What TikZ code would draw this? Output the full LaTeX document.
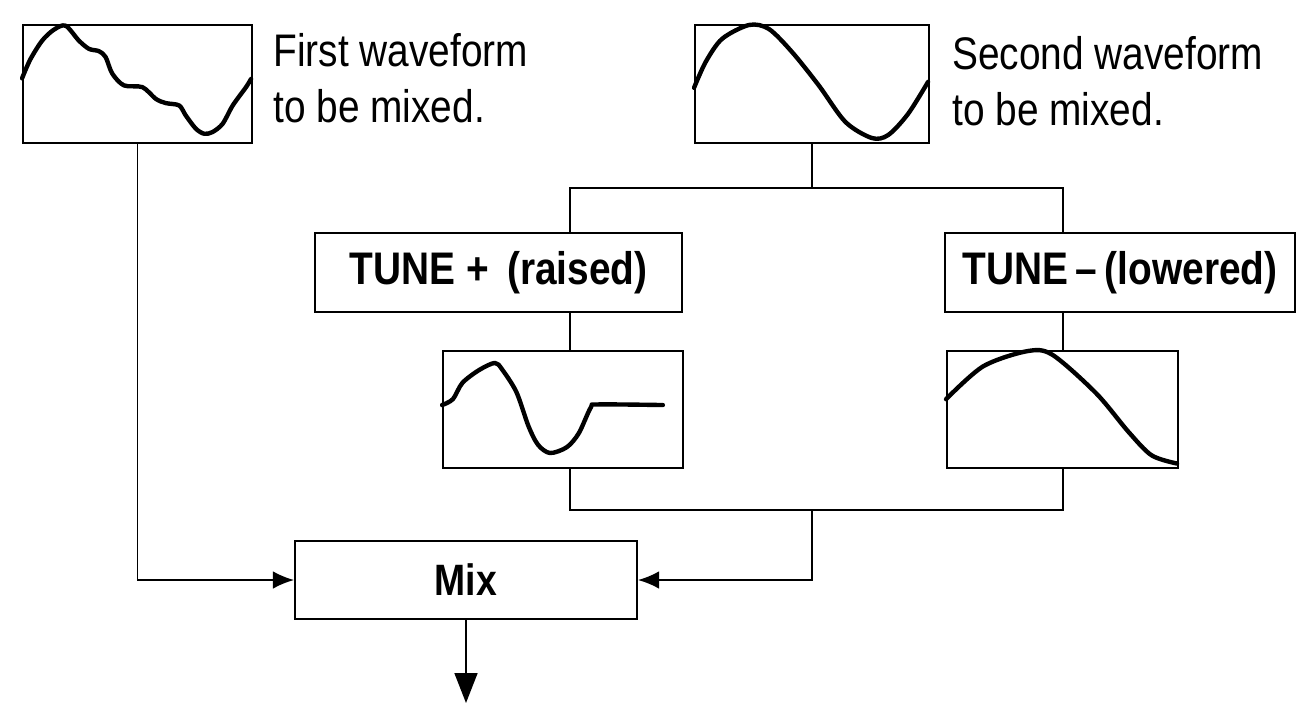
\documentclass[tikz,border=0pt]{standalone}
\usepackage{fontspec}
\setmainfont{Liberation Sans}[FakeStretch=0.85]
\usepackage{tikz}
\usetikzlibrary{arrows.meta, positioning, calc}

\newcommand{\drawwave}[4]{%
  \begin{scope}[shift={(#1.north west)}, xscale=#2, yscale=#3]
    \draw[wave] plot[smooth, tension=0.5] coordinates {#4};
  \end{scope}}

\begin{document}
\begin{tikzpicture}[
        x=0.02cm, y=-0.02cm,
        scope/.style={rectangle, draw, line width=1.1pt, inner sep=0pt,
                      minimum width=4.6cm, minimum height=2.36cm},
        tunebox/.style={rectangle, draw, line width=1.1pt, inner sep=0pt,
                        minimum height=1.58cm, font=\fontsize{26}{30}\selectfont\bfseries},
        note/.style={anchor=north west, inner sep=0pt, align=left,
                     font=\fontsize{26}{32}\selectfont},
        wave/.style={line width=2.5pt, line join=round, line cap=round},
        link/.style={line width=1.1pt},
        feed/.style={line width=1.1pt, -{Latex[length=12pt, width=10pt]}},
      ]
      \useasboundingbox (0,0) rectangle (1305,704);

      \node[scope, minimum width=4.58cm] (first) at (137.5,84) {};
      \node[scope, minimum width=4.68cm] (second) at (812,84) {};
      \node[note] (firstnote) at (273,33) {First waveform\\to be mixed.};
      \node[note] (secondnote) at (952,36) {Second waveform\\to be mixed.};

      \node[tunebox, minimum width=7.34cm] (raised) at (498.5,272.5) {TUNE +\, (raised)};
      \node[tunebox, minimum width=7.0cm] (lowered) at (1120,272.5) {TUNE\,--\,(lowered)};

      \node[scope, minimum width=4.8cm, minimum height=2.34cm] (wraised) at (563,409.5) {};
      \node[scope, minimum width=4.62cm, minimum height=2.34cm] (wlowered) at (1062.5,409.5) {};

      \node[tunebox, minimum width=6.84cm, minimum height=1.56cm,
            font=\fontsize{25}{30}\selectfont\bfseries] (mix) at (466,580) {Mix};

      \drawwave{first}{229}{118}{(0,0.46) (0.036,0.30) (0.088,0.14) (0.139,0.048)
        (0.19,0.014) (0.248,0.14) (0.292,0.21) (0.336,0.23) (0.365,0.28) (0.394,0.42)
        (0.445,0.52) (0.526,0.535) (0.584,0.634) (0.628,0.67) (0.686,0.69) (0.715,0.775)
        (0.759,0.887) (0.796,0.93) (0.832,0.915) (0.876,0.845) (0.92,0.69) (0.978,0.535)
        (1,0.465)}
      \drawwave{second}{234}{118}{(0,0.54) (0.05,0.32) (0.12,0.125) (0.235,0.008)
        (0.32,0.042) (0.42,0.24) (0.533,0.52) (0.647,0.83) (0.76,0.966) (0.83,0.94)
        (0.915,0.76) (1,0.49)}
      \drawwave{wraised}{240}{117}{(0,0.47) (0.045,0.42) (0.085,0.28) (0.155,0.17)
        (0.22,0.11) (0.25,0.165) (0.31,0.36) (0.36,0.65) (0.40,0.81) (0.45,0.88)
        (0.52,0.83) (0.57,0.71) (0.62,0.49) (0.65,0.465) (0.92,0.47)}
      \drawwave{wlowered}{231}{117}{(0,0.42) (0.16,0.14) (0.35,0.01) (0.46,0.04)
        (0.65,0.37) (0.79,0.70) (0.89,0.90) (1,0.97)}

      \coordinate (split) at (812,188);
      \coordinate (splitL) at (570,188);
      \coordinate (splitR) at (1063,188);
      \coordinate (joinL) at (570,510);
      \coordinate (joinR) at (1063,510);
      \coordinate (joinM) at (812,510);
      \coordinate (out) at (466,703);

      \draw[link] (second.south) -- (split);
      \draw[link] (splitL |- raised.north) -- (splitL) -- (splitR) -- (splitR |- lowered.north);
      \draw[link] (splitL |- raised.south) -- (splitL |- wraised.north);
      \draw[link] (splitR |- lowered.south) -- (splitR |- wlowered.north);
      \draw[link, line width=1.5pt] (joinL |- wraised.south) -- (joinL) -- (joinR) -- (joinR |- wlowered.south);
      \draw[feed] (joinM) |- (mix.east);
      \draw[feed] (first.south) |- (mix.west);
      \draw[feed, -{Triangle[length=17pt, width=13pt]}] (mix.south) -- (out);
    \end{tikzpicture}
\end{document}
